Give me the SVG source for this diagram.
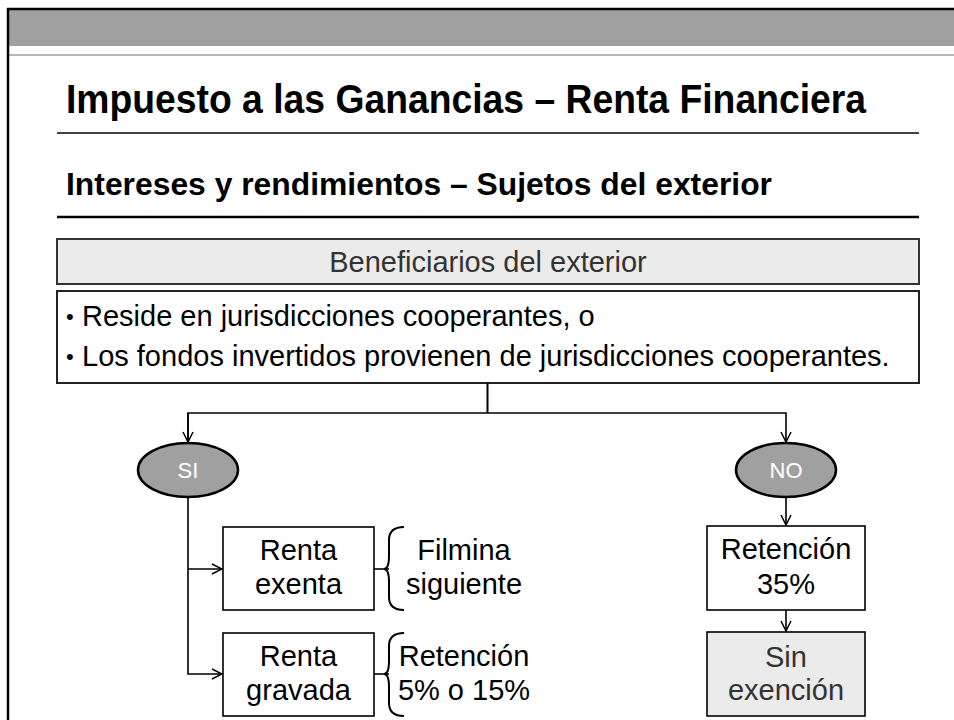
<svg xmlns="http://www.w3.org/2000/svg" width="954" height="720" viewBox="0 0 954 720">
<defs>
<style>
text{font-family:"Liberation Sans",Arial,sans-serif;}
.title{font-size:41px;font-weight:bold;fill:#000;}
.sub{font-size:32px;font-weight:bold;fill:#000;}
.t29{font-size:29px;fill:#000;}
.t29g{font-size:29px;fill:#333;}
.bul{font-size:22px;fill:#000;}
.oval{fill:#a0a0a0;stroke:#000;stroke-width:2.5;}
.ovt{font-size:22px;fill:#fff;text-anchor:middle;}
.box{fill:#fff;stroke:#000;stroke-width:1.6;}
.gbox{fill:#ebebeb;stroke:#000;stroke-width:1.6;}
.conn{fill:none;stroke:#000;stroke-width:1.6;}
.brace{fill:none;stroke:#000;stroke-width:2;}
.mid{text-anchor:middle;}
</style>
<marker id="arr" viewBox="0 0 12 12" refX="11" refY="6" markerWidth="12" markerHeight="12" markerUnits="userSpaceOnUse" orient="auto">
<path d="M1,1 L11,6 L1,11" fill="none" stroke="#000" stroke-width="1.5"/>
</marker>
</defs>
<rect width="954" height="720" fill="#fff"/>
<g id="header">
<rect x="9" y="10" width="945" height="36" fill="#a0a0a0"/>
<line x1="9" y1="55" x2="954" y2="55" stroke="#a0a0a0" stroke-width="1.5"/>
<line x1="7" y1="9" x2="954" y2="9" stroke="#000" stroke-width="2.5"/>
<line x1="8" y1="8" x2="8" y2="720" stroke="#000" stroke-width="2.5"/>
</g>
<g id="title">
<text class="title" x="66" y="113" textLength="800" lengthAdjust="spacingAndGlyphs">Impuesto a las Ganancias – Renta Financiera</text>
<line x1="57" y1="133" x2="919" y2="133" stroke="#000" stroke-width="1.5"/>
<text class="sub" x="66" y="195" textLength="706" lengthAdjust="spacingAndGlyphs">Intereses y rendimientos – Sujetos del exterior</text>
<line x1="57" y1="217" x2="919" y2="217" stroke="#000" stroke-width="2.5"/>
</g>
<g id="beneficiarios">
<rect x="57" y="239" width="862" height="45" fill="#ebebeb" stroke="#333" stroke-width="2"/>
<text class="t29g mid" x="488" y="272">Beneficiarios del exterior</text>
</g>
<g id="condiciones">
<rect x="57" y="291" width="862" height="92" fill="#fff" stroke="#222" stroke-width="2"/>
<text class="bul" x="66" y="324">•</text>
<text class="t29" x="82" y="326">Reside en jurisdicciones cooperantes, o</text>
<text class="bul" x="66" y="364">•</text>
<text class="t29" x="82" y="366">Los fondos invertidos provienen de jurisdicciones cooperantes.</text>
</g>
<g id="connectors">
<line x1="487.5" y1="383" x2="487.5" y2="413" stroke="#000" stroke-width="2"/>
<polyline class="conn" points="188,442 188,413 786,413 786,442" marker-end="url(#arr)"/>
<path class="conn" d="M188,413 L188,442" marker-end="url(#arr)"/>
<path class="conn" d="M188,497 L188,674 L222,674" marker-end="url(#arr)"/>
<path class="conn" d="M188,569 L222,569" marker-end="url(#arr)"/>
<path class="conn" d="M786,497 L786,525" marker-end="url(#arr)"/>
<path class="conn" d="M786,610 L786,631" marker-end="url(#arr)"/>
<path class="conn" d="M374,569 L389,569" stroke-width="2.2"/>
<path class="conn" d="M374,674 L389,674" stroke-width="2.2"/>
</g>
<g id="si">
<ellipse class="oval" cx="188" cy="470" rx="50" ry="27"/>
<text class="ovt" x="188" y="478">SI</text>
</g>
<g id="no">
<ellipse class="oval" cx="786" cy="470" rx="50" ry="27"/>
<text class="ovt" x="786" y="478">NO</text>
</g>
<g id="renta-exenta">
<rect class="box" x="223" y="527" width="151" height="83"/>
<text class="t29 mid" x="298.5" y="560">Renta</text>
<text class="t29 mid" x="298.5" y="594">exenta</text>
</g>
<g id="renta-gravada">
<rect class="box" x="223" y="633" width="151" height="83"/>
<text class="t29 mid" x="298.5" y="666">Renta</text>
<text class="t29 mid" x="298.5" y="700">gravada</text>
</g>
<g id="brace-exenta">
<path class="brace" d="M404,527 Q389,527 389,540 L389,556 Q389,569 384,569 Q389,569 389,582 L389,597 Q389,610 404,610"/>
<text class="t29 mid" x="464" y="560">Filmina</text>
<text class="t29 mid" x="464" y="594">siguiente</text>
</g>
<g id="brace-gravada">
<path class="brace" d="M404,633 Q389,633 389,646 L389,661 Q389,674 384,674 Q389,674 389,687 L389,703 Q389,716 404,716"/>
<text class="t29 mid" x="464" y="666">Retención</text>
<text class="t29 mid" x="464" y="700">5% o 15%</text>
</g>
<g id="retencion-35">
<rect class="box" x="707" y="526" width="158" height="84"/>
<text class="t29 mid" x="786" y="559">Retención</text>
<text class="t29 mid" x="786" y="594">35%</text>
</g>
<g id="sin-exencion">
<rect class="gbox" x="707" y="632" width="158" height="84"/>
<text class="t29g mid" x="786" y="667">Sin</text>
<text class="t29g mid" x="786" y="700">exención</text>
</g>
</svg>
